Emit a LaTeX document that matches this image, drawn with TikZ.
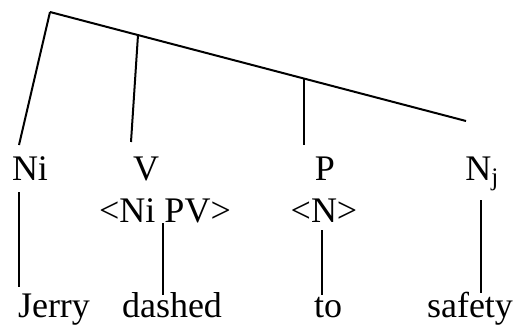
\documentclass[tikz,border=0pt]{standalone}
\usepackage{fontspec}
\setmainfont{Liberation Serif}
\usepackage{tikz}

\begin{document}
\begin{tikzpicture}[x=0.5pt,y=-0.5pt,every node/.style={inner sep=0pt, anchor=base, font=\fontsize{18}{20}\selectfont}]
	\useasboundingbox (0,0) rectangle (519,326);
	%Tree
	\coordinate (root) at (50,12);
	\coordinate (rend) at (466,121);
	\coordinate (vtop) at (138,35);
	\coordinate (ptop) at (304,78);
	\coordinate (nibot) at (19,145);
	\coordinate (vbot) at (131,142);
	\coordinate (pbot) at (304,145);
	\draw[line width=1pt] (root) -- (rend);
	\draw[line width=1pt] (root) -- (nibot);
	\draw[line width=1pt] (vtop) -- (vbot);
	\draw[line width=1pt] (ptop) -- (pbot);
	%Categories
	\node (ni) at (30,180) {Ni};
	\node (v) at (146,180) {V};
	\node (p) at (325,180) {P};
	\node [anchor=base west] (nj) at (465,180) {N\textsubscript{j}};
	%Frames
	\node (vframe) at (165,222) {<Ni PV>};
	\node (pframe) at (324,222) {<N>};
	%Words
	\node (jerry) at (54,317) {Jerry};
	\node (dashed) at (172,317) {dashed};
	\node (to) at (328,317) {to};
	\node (safety) at (470,317) {safety};
	\coordinate (jtop) at (19,192);
	\coordinate (jbot) at (19,287);
	\coordinate (dtop) at (163,223);
	\coordinate (dbot) at (163,295);
	\coordinate (ttop) at (322,230);
	\coordinate (tbot) at (322,295);
	\coordinate (stop) at (481,200);
	\coordinate (sbot) at (481,293);
	\draw[line width=0.75pt] (jtop) -- (jbot);
	\draw[line width=0.75pt] (dtop) -- (dbot);
	\draw[line width=0.75pt] (ttop) -- (tbot);
	\draw[line width=0.75pt] (stop) -- (sbot);
\end{tikzpicture}
\end{document}
